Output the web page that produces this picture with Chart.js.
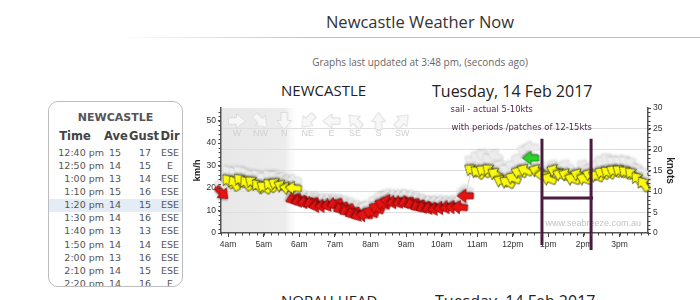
<!DOCTYPE html>
<html>
<head>
<meta charset="utf-8">
<title>Newcastle Weather Now</title>
<script src="https://cdn.jsdelivr.net/npm/chart.js@4.4.0/dist/chart.umd.min.js"></script>
<style>
  html, body { margin: 0; padding: 0; background: #fff; }
  body { width: 700px; height: 300px; position: relative; overflow: hidden; font-family: "Open Sans", sans-serif; }
  .abs { position: absolute; white-space: nowrap; line-height: 1; }
  #title { left: 320px; width: 200px; text-align: center; top: 14px; font-size: 16.5px; color: #333; }
  #rule { position: absolute; left: 120px; top: 37px; width: 580px; height: 1px;
          background: linear-gradient(to right, rgba(170,186,186,0), #b3c2c2 35%, #b3c2c2); }
  #updated { left: 270px; width: 300px; text-align: center; top: 57px; font-size: 10px; color: #666; }
  .head { font-size: 15px; color: #222; }
  .head2 { font-size: 16px; color: #222; }
  #tbl { position: absolute; left: 48px; top: 101px; width: 133px; height: 184px; border: 1px solid #bdbdbd;
         border-radius: 10px; overflow: hidden; background: #fff; font-family: "DejaVu Sans", sans-serif; }
  #tbl .c { position: absolute; white-space: nowrap; line-height: 1; font-size: 9.5px; color: #555; }
  #tbl .h { position: absolute; white-space: nowrap; line-height: 1; font-weight: bold; color: #444; text-align: center; }
  #tbl .band { position: absolute; left: 0; width: 100%; height: 13px; background: #e4ecf6; }
  #chartBox { position: absolute; left: 190px; top: 80px; width: 490px; height: 185px; }
</style>
</head>
<body>
<div id="title" class="abs">Newcastle Weather Now</div>
<div id="rule"></div>
<div id="updated" class="abs">Graphs last updated at 3:48 pm, (seconds ago)</div>
<div id="tbl"></div>
<div class="abs head" style="left:281px;top:83px">NEWCASTLE</div>
<div class="abs head2" style="left:432px;top:83px">Tuesday, 14 Feb 2017</div>
<div id="chartBox"><canvas id="wind"></canvas></div>
<div class="abs head" style="left:281px;top:293px">NORAH HEAD</div>
<div class="abs head2" style="left:435px;top:293px">Tuesday, 14 Feb 2017</div>

<script>
// 10 minute readings: average and gust in knots, direction the wind comes from (deg)
const obsTime = [
  '3:50',
  '4:00', '4:10', '4:20', '4:30', '4:40', '4:50', '5:00', '5:10', '5:20', '5:30', '5:40', '5:50',
  '5:50', '6:00', '6:10', '6:20', '6:30', '6:40', '6:50', '7:00', '7:10', '7:20',
  '7:30', '7:40', '7:50', '8:00', '8:10', '8:20', '8:30', '8:40', '8:50', '9:00',
  '9:10', '9:20', '9:30', '9:40', '9:50', '10:00', '10:10', '10:20', '10:30', '10:40',
  '10:50', '11:00', '11:10', '11:20', '11:30', '11:40', '11:50', '12:00', '12:10', '12:20',
  '12:30',
  '12:40', '12:50', '13:00', '13:10', '13:20', '13:30', '13:40', '13:50', '14:00', '14:10',
  '14:20', '14:30', '14:40', '14:50', '15:00', '15:10', '15:20', '15:30', '15:40'
];
const obsAve = [
  9.6,
  12.5, 12.0, 12.7, 12.0, 12.2, 11.3, 11.0, 11.5, 11.8, 11.3, 10.8, 10.8,
  8.2, 7.7, 7.4, 7.2, 6.5, 6.5, 6.7, 7.0, 6.0, 5.5,
  4.8, 4.3, 4.3, 5.0, 6.0, 7.0, 7.7, 7.4, 7.4, 7.4,
  7.0, 6.5, 6.2, 6.0, 5.8, 6.0, 6.2, 6.2, 6.2, 8.9,
  15.1, 14.6, 14.9, 15.1, 14.2, 12.5, 12.2, 13.2, 14.6, 15.1,
  18.0,
  15, 14, 13, 15, 14, 14, 13, 14, 13, 14,
  13.7, 14.4, 14.6, 14.9, 14.9, 14.6, 14.2, 13.0, 11.8
];
const obsGust = [
  11,
  14.5, 14, 14.5, 14, 13.5, 13.5, 13, 13.5, 13.5, 13, 12.5, 12.5,
  9.5, 9, 8.5, 8.5, 8, 8, 8, 8, 7.5, 7,
  6.5, 6, 6, 6.5, 7.5, 8.5, 9, 9, 9, 9,
  8.5, 8, 7.5, 7.5, 7.5, 7.5, 7.5, 7.5, 7.5, 10,
  17, 18, 18.5, 17.5, 18.5, 16, 15, 16, 17.5, 19.5,
  20.5,
  17, 15, 14, 16, 15, 16, 13, 14, 16, 15,
  16, 17, 17.5, 17, 17, 17, 16.5, 15, 14
];
const obsDir = [
  315,
  140, 150, 135, 145, 130, 140, 125, 135, 120, 115, 100, 95,
  70, 75, 80, 70, 80, 85, 75, 70, 65, 60,
  65, 70, 95, 110, 115, 110, 100, 80, 70, 75,
  70, 65, 70, 75, 80, 85, 80, 90, 95, 90,
  125, 130, 125, 130, 120, 115, 120, 115, 110, 115,
  90,
  112, 90, 112, 112, 112, 112, 112, 112, 112, 112,
  115, 120, 125, 120, 125, 130, 135, 140, 145
];
const obsColour = [
  'R',
  'Y', 'Y', 'Y', 'Y', 'Y', 'Y', 'Y', 'Y', 'Y', 'Y', 'Y', 'Y',
  'R', 'R', 'R', 'R', 'R', 'R', 'R', 'R', 'R', 'R',
  'R', 'R', 'R', 'R', 'R', 'R', 'R', 'R', 'R', 'R',
  'R', 'R', 'R', 'R', 'R', 'R', 'R', 'R', 'R', 'R',
  'Y', 'Y', 'Y', 'Y', 'Y', 'Y', 'Y', 'Y', 'Y', 'Y',
  'G',
  'Y', 'Y', 'Y', 'Y', 'Y', 'Y', 'Y', 'Y', 'Y', 'Y',
  'Y', 'Y', 'Y', 'Y', 'Y', 'Y', 'Y', 'Y', 'Y'
];

// axes
const hourTicks = [4, 5, 6, 7, 8, 9, 10, 11, 12, 13, 14, 15];
const hourLabels = ['4am', '5am', '6am', '7am', '8am', '9am', '10am', '11am', '12pm', '1pm', '2pm', '3pm'];
const kmhTicks = [0, 10, 20, 30, 40, 50];
const ktsTicks = [0, 5, 10, 15, 20, 25, 30];
const KMH_PER_KT = 1.852;

// direction key across the top
const compassNames = ['W', 'NW', 'N', 'NE', 'E', 'SE', 'S', 'SW'];
const compassDirs = [270, 315, 0, 45, 90, 135, 180, 225];

// hand drawn note on the picture
const noteLines = ['sail - actual 5-10kts', 'with periods /patches of 12-15kts'];
const sailFrom = 12.82, sailTo = 14.2, sailKts = 8.4, sailTop = 22.6;
const nightEnd = 5.6, dawnEnd = 6.0;

// latest readings box
const tableTimes = ['12:40 pm', '12:50 pm', '1:00 pm', '1:10 pm', '1:20 pm', '1:30 pm', '1:40 pm', '1:50 pm', '2:00 pm', '2:10 pm', '2:20 pm'];
const tableAve = [15, 14, 13, 15, 14, 14, 13, 14, 13, 14, 14];
const tableGust = [17, 15, 14, 16, 15, 16, 13, 14, 16, 15, 16];
const tableDir = ['ESE', 'E', 'ESE', 'ESE', 'ESE', 'ESE', 'ESE', 'ESE', 'ESE', 'ESE', 'E'];

function toHours(s) {
  const [h, m] = s.split(':').map(Number);
  return h + m / 60;
}

// build the table
const tbl = document.getElementById('tbl');
function addDiv(cls, text, style) {
  const d = document.createElement('div');
  d.className = cls;
  d.textContent = text;
  Object.assign(d.style, style);
  tbl.appendChild(d);
  return d;
}
addDiv('band', '', { top: '96.5px' });
addDiv('h', 'NEWCASTLE', { left: '0px', width: '133px', top: '9.7px', fontSize: '11px', color: '#555' });
addDiv('h', 'Time', { left: '0px', width: '52px', top: '28.7px', fontSize: '11.5px' });
addDiv('h', 'Ave', { left: '53px', width: '28px', top: '28.7px', fontSize: '11.5px' });
addDiv('h', 'Gust', { left: '80px', width: '28px', top: '28.7px', fontSize: '11.5px' });
addDiv('h', 'Dir', { left: '107px', width: '28px', top: '28.7px', fontSize: '11.5px' });
tableTimes.forEach((t, i) => {
  const top = (45.5 + i * 13.15) + 'px';
  addDiv('c', t, { left: '0px', width: '55px', textAlign: 'right', top });
  addDiv('c', tableAve[i], { left: '56px', width: '20px', textAlign: 'center', top });
  addDiv('c', tableGust[i], { left: '86px', width: '20px', textAlign: 'center', top });
  addDiv('c', tableDir[i], { left: '106px', width: '30px', textAlign: 'center', top });
});

// arrow sprites, pointing right before rotation
function makeArrow(fill, stroke, shadow, blur, scale) {
  const c = document.createElement('canvas');
  c.width = 28; c.height = 28;
  const g = c.getContext('2d');
  g.translate(14, 14);
  g.scale(scale, scale);
  g.beginPath();
  g.moveTo(-7.5, -2.8);
  g.lineTo(-0.5, -2.8);
  g.lineTo(-0.5, -6.2);
  g.lineTo(7.5, 0);
  g.lineTo(-0.5, 6.2);
  g.lineTo(-0.5, 2.8);
  g.lineTo(-7.5, 2.8);
  g.closePath();
  g.shadowColor = shadow;
  g.shadowBlur = blur;
  g.shadowOffsetX = 1;
  g.shadowOffsetY = 1.5;
  g.fillStyle = fill;
  g.fill();
  g.shadowColor = 'transparent';
  g.strokeStyle = stroke;
  g.lineWidth = 0.8 / scale;
  g.stroke();
  return c;
}
const arrows = {
  Y: makeArrow('#fbfb10', '#44440c', 'rgba(0,0,0,0.35)', 2, 1.08),
  R: makeArrow('#e51212', '#8e0606', 'rgba(0,0,0,0.35)', 2, 1.08),
  G: makeArrow('#27d127', '#138a13', 'rgba(0,0,0,0.35)', 2, 1.08)
};
const gustArrow = makeArrow('#ececec', '#e0e0e0', 'rgba(0,0,0,0.12)', 3, 1.08);
const keyArrow = makeArrow('#f7f7f7', '#d4d4d4', 'transparent', 0, 1.15);

const obsX = obsTime.map(toHours);

const nightShade = {
  id: 'nightShade',
  beforeDraw(chart) {
    const { ctx, chartArea: a, scales: { x } } = chart;
    const x1 = x.getPixelForValue(nightEnd);
    const x2 = x.getPixelForValue(dawnEnd);
    const g = ctx.createLinearGradient(a.left, 0, x2, 0);
    g.addColorStop(0, '#e8e8e8');
    g.addColorStop((x1 - a.left) / (x2 - a.left), '#ececec');
    g.addColorStop(1, 'rgba(255,255,255,0)');
    ctx.save();
    ctx.fillStyle = g;
    ctx.fillRect(a.left, a.top, x2 - a.left, a.bottom - a.top);
    ctx.restore();
  }
};

const compassKey = {
  id: 'compassKey',
  beforeDatasetsDraw(chart) {
    const { ctx, chartArea: a } = chart;
    ctx.save();
    ctx.font = '9px "Liberation Sans"';
    ctx.fillStyle = '#d0d0d0';
    ctx.textAlign = 'center';
    ctx.textBaseline = 'middle';
    compassNames.forEach((name, i) => {
      const cx = a.left + 16 + i * 23.6;
      ctx.save();
      ctx.translate(cx, a.top + 13);
      ctx.rotate((compassDirs[i] + 90) * Math.PI / 180);
      ctx.drawImage(keyArrow, -14, -14);
      ctx.restore();
      ctx.fillText(name, cx, a.top + 26);
    });
    ctx.restore();
  }
};

const minorTicks = {
  id: 'minorTicks',
  afterDraw(chart) {
    const { ctx, chartArea: a, scales: { x, kmh, kts } } = chart;
    ctx.save();
    ctx.strokeStyle = '#444';
    ctx.lineWidth = 1;
    ctx.beginPath();
    for (let t = x.min; t <= x.max + 1e-6; t += 0.2) {
      const px = Math.round(x.getPixelForValue(t)) + 0.5;
      ctx.moveTo(px, a.bottom);
      ctx.lineTo(px, a.bottom + 2.5);
    }
    for (let v = 0; v <= kmh.max; v += 2) {
      const py = Math.round(kmh.getPixelForValue(v)) + 0.5;
      ctx.moveTo(a.left, py);
      ctx.lineTo(a.left - 2.5, py);
    }
    for (let v = 0; v <= kts.max; v += 1) {
      const py = Math.round(kts.getPixelForValue(v)) + 0.5;
      ctx.moveTo(a.right, py);
      ctx.lineTo(a.right + 2.5, py);
    }
    ctx.stroke();
    ctx.restore();
  }
};

const sailNote = {
  id: 'sailNote',
  afterDatasetsDraw(chart) {
    const { ctx, chartArea: a, scales: { x, kts } } = chart;
    ctx.save();
    // watermark
    ctx.font = '9px "Liberation Sans"';
    ctx.fillStyle = '#c4c4c4';
    ctx.textAlign = 'right';
    ctx.textBaseline = 'middle';
    ctx.fillText('www.seabreeze.com.au', a.right - 7, a.bottom - 9);
    // note text
    ctx.font = '8.4px "DejaVu Sans"';
    ctx.fillStyle = '#55264b';
    ctx.textAlign = 'left';
    ctx.fillText(noteLines[0], x.getPixelForValue(10.25), kts.getPixelForValue(29.5));
    ctx.fillText(noteLines[1], x.getPixelForValue(10.28), kts.getPixelForValue(25.2));
    // sailing window bracket
    const xl = x.getPixelForValue(sailFrom);
    const xr = x.getPixelForValue(sailTo);
    const yt = kts.getPixelForValue(sailTop);
    const yh = kts.getPixelForValue(sailKts);
    ctx.strokeStyle = '#4a1c40';
    ctx.lineWidth = 3;
    ctx.beginPath();
    ctx.moveTo(xl, yt); ctx.lineTo(xl, a.bottom + 12);
    ctx.moveTo(xr, yt); ctx.lineTo(xr, a.bottom + 17);
    ctx.moveTo(xl, yh); ctx.lineTo(xr + 2, yh);
    ctx.stroke();
    ctx.restore();
  }
};

Chart.defaults.font.family = '"Liberation Sans", sans-serif';

new Chart(document.getElementById('wind'), {
  type: 'line',
  data: {
    datasets: [
      {
        label: 'Average',
        data: obsX.map((t, i) => ({ x: t, y: obsAve[i] })),
        yAxisID: 'kts',
        showLine: false,
        pointRadius: 4,
        pointStyle: ctx => arrows[obsColour[ctx.dataIndex]],
        pointRotation: ctx => obsDir[ctx.dataIndex] + 90,
        clip: false,
        order: 1
      },
      {
        label: 'Trace',
        data: obsX.map((t, i) => ({ x: t, y: obsAve[i] })),
        yAxisID: 'kts',
        borderColor: '#cfcfcf',
        borderWidth: 1,
        pointRadius: 0,
        order: 2
      },
      {
        label: 'Gust',
        data: obsX.map((t, i) => ({ x: t, y: obsGust[i] })),
        yAxisID: 'kts',
        showLine: false,
        pointRadius: 4,
        pointStyle: gustArrow,
        pointRotation: ctx => obsDir[ctx.dataIndex] + 90,
        clip: false,
        order: 3
      }
    ]
  },
  options: {
    responsive: true,
    maintainAspectRatio: false,
    animation: false,
    events: [],
    layout: { padding: { left: 0, top: 28, right: 3, bottom: 10 } },
    plugins: { legend: { display: false }, tooltip: { enabled: false } },
    scales: {
      x: {
        type: 'linear',
        min: 3.8,
        max: 15.8,
        afterBuildTicks: s => { s.ticks = hourTicks.map(v => ({ value: v })); },
        afterFit: s => { s.height = 22; },
        grid: { drawOnChartArea: false, tickLength: 4, tickColor: '#444' },
        border: { color: '#555', width: 1.5 },
        ticks: {
          autoSkip: false,
          maxRotation: 0,
          padding: 3,
          color: '#333',
          font: { size: 8.5 },
          callback: (v, i) => hourLabels[i]
        }
      },
      kmh: {
        type: 'linear',
        position: 'left',
        min: 0,
        max: 30 * KMH_PER_KT,
        afterBuildTicks: s => { s.ticks = kmhTicks.map(v => ({ value: v })); },
        afterFit: s => { s.width = 31; },
        grid: { drawOnChartArea: false, tickLength: 3, tickColor: '#444' },
        border: { color: '#555', width: 1.5 },
        ticks: { padding: 2, color: '#333', font: { size: 8.5 } },
        title: { display: true, text: 'km/h', color: '#222', font: { size: 9.5, weight: 'bold' }, padding: { top: 1.5, bottom: 0 } }
      },
      kts: {
        type: 'linear',
        position: 'right',
        min: 0,
        max: 30,
        afterBuildTicks: s => { s.ticks = ktsTicks.map(v => ({ value: v })); },
        afterFit: s => { s.width = 29; },
        grid: {
          drawOnChartArea: true,
          tickLength: 3,
          tickColor: '#444',
          color: ctx => (ctx.tick && ctx.tick.value > 0 && ctx.tick.value < 30) ? '#dedede' : 'rgba(0,0,0,0)'
        },
        border: { color: '#555', width: 1.5 },
        ticks: { padding: 2, color: '#333', font: { size: 8.5 } },
        title: { display: true, text: 'knots', color: '#222', font: { size: 10, weight: 'bold' }, padding: { top: 1, bottom: 0 } }
      }
    }
  },
  plugins: [nightShade, compassKey, minorTicks, sailNote]
});
</script>
</body>
</html>
